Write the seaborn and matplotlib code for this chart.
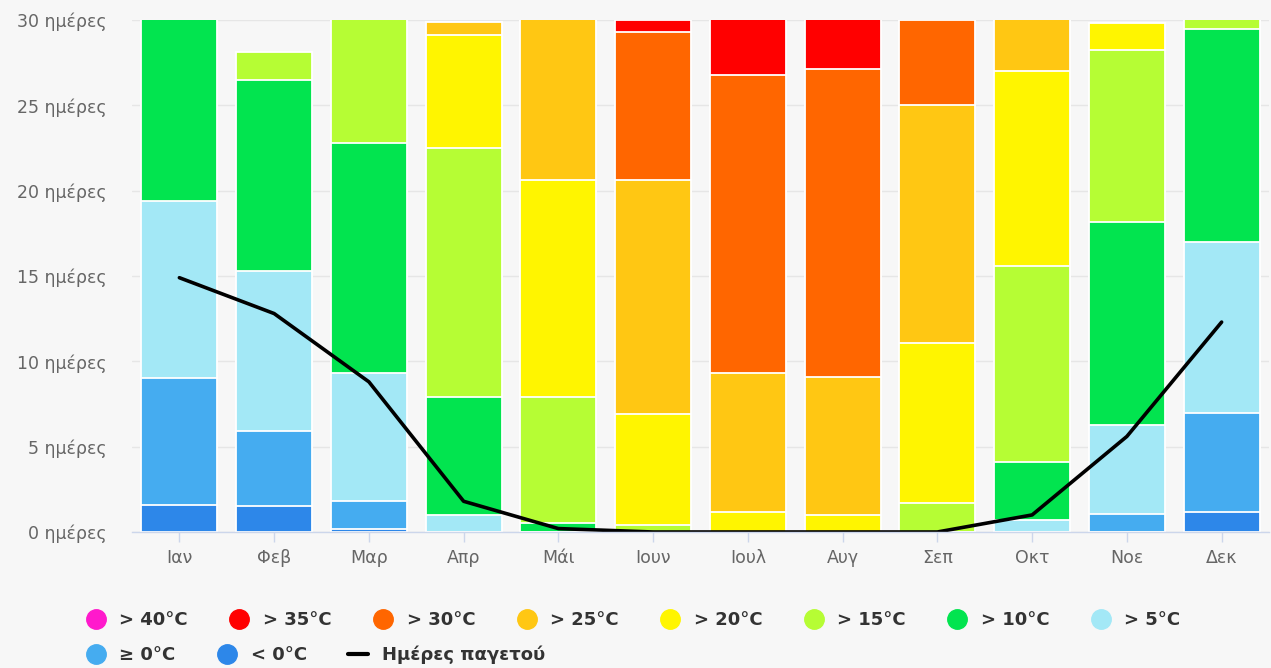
import numpy as np
import pandas as pd
import matplotlib
matplotlib.use("Agg")
import matplotlib.pyplot as plt
import seaborn as sns
from matplotlib.lines import Line2D

# ---------------- data ----------------
months = ['Ιαν', 'Φεβ', 'Μαρ', 'Απρ', 'Μάι', 'Ιουν', 'Ιουλ', 'Αυγ', 'Σεπ', 'Οκτ', 'Νοε', 'Δεκ']

# days per temperature class (bottom to top)
lt0  = [1.6, 1.5, 0.2, 0.0, 0.0, 0.0, 0.0, 0.0, 0.0, 0.0, 0.0, 1.2]
ge0  = [7.4, 4.4, 1.6, 0.0, 0.0, 0.0, 0.0, 0.0, 0.0, 0.0, 1.05, 5.8]
gt5  = [10.4, 9.4, 7.5, 1.0, 0.0, 0.0, 0.0, 0.0, 0.0, 0.7, 5.2, 10.0]
gt10 = [11.6, 11.2, 13.5, 6.9, 0.5, 0.0, 0.0, 0.0, 0.0, 3.4, 11.9, 12.5]
gt15 = [0.0, 1.6, 8.2, 14.6, 7.4, 0.4, 0.0, 0.0, 1.7, 11.5, 10.1, 1.5]
gt20 = [0.0, 0.0, 0.0, 6.6, 12.7, 6.5, 1.2, 1.0, 9.4, 11.4, 1.6, 0.0]
gt25 = [0.0, 0.0, 0.0, 0.8, 10.4, 13.7, 8.1, 8.1, 13.9, 4.0, 0.0, 0.0]
gt30 = [0.0, 0.0, 0.0, 0.0, 0.0, 8.7, 17.5, 18.0, 5.0, 0.0, 0.0, 0.0]
gt35 = [0.0, 0.0, 0.0, 0.0, 0.0, 0.7, 4.2, 3.9, 0.0, 0.0, 0.0, 0.0]
gt40 = [0.0, 0.0, 0.0, 0.0, 0.0, 0.0, 0.0, 0.0, 0.0, 0.0, 0.0, 0.0]

frost_days = [14.9, 12.8, 8.8, 1.8, 0.2, 0.0, 0.0, 0.0, 0.0, 1.0, 5.6, 12.3]

series_labels = ['< 0°C', '≥ 0°C', '> 5°C', '> 10°C', '> 15°C',
                 '> 20°C', '> 25°C', '> 30°C', '> 35°C', '> 40°C']
series_colors = ['#2d87e9', '#45acf0', '#a3e8f6', '#02e44f', '#b6fd34',
                 '#fff500', '#ffc713', '#ff6600', '#ff0000', '#ff19cc']
frost_label = 'Ημέρες παγετού'

yticks = [0, 5, 10, 15, 20, 25, 30]
ytick_labels = ['0 ημέρες', '5 ημέρες', '10 ημέρες', '15 ημέρες',
                '20 ημέρες', '25 ημέρες', '30 ημέρες']

layers = [lt0, ge0, gt5, gt10, gt15, gt20, gt25, gt30, gt35, gt40]

# ---------------- style ----------------
bg = '#f7f7f7'
sns.set_theme(style='white')
plt.rcParams['font.family'] = ['DejaVu Sans']

W, H = 1271, 668
fig = plt.figure(figsize=(W / 100, H / 100), dpi=100, facecolor=bg)
ax = fig.add_axes([132 / W, 1 - 532 / H, (1269 - 132) / W, 512 / H])
ax.set_facecolor(bg)

# stacked bars: draw cumulative totals from top layer downward
cum = np.cumsum(np.array(layers), axis=0)
for i in reversed(range(len(layers))):
    if not any(v > 0 for v in layers[i]):
        continue
    df = pd.DataFrame({'month': months, 'days': cum[i]})
    sns.barplot(data=df, x='month', y='days', order=months, color=series_colors[i],
                saturation=1, width=0.8, edgecolor='white', linewidth=1.3,
                errorbar=None, ax=ax, zorder=2)

# frost days line
sns.lineplot(x=np.arange(len(months)), y=frost_days, color='black', linewidth=2.6,
             ax=ax, zorder=5)

ax.set_xlim(-0.5, len(months) - 0.5)
ax.set_ylim(0, 30)
ax.set_xlabel('')
ax.set_ylabel('')
ax.set_xticks(np.arange(len(months)))
ax.set_xticklabels(months)
ax.set_yticks(yticks)
ax.set_yticklabels(ytick_labels)

ax.yaxis.grid(True, color='#e6e6e6', linewidth=1)
ax.set_axisbelow(True)
for s in ['top', 'right', 'left']:
    ax.spines[s].set_visible(False)
ax.spines['bottom'].set_color('#ccd6eb')
ax.spines['bottom'].set_linewidth(1)
ax.spines['bottom'].set_zorder(6)

ax.tick_params(axis='y', length=0, pad=18, labelsize=12.5, labelcolor='#666666')
ax.tick_params(axis='x', length=7, width=1, color='#ccd6eb', pad=5,
               labelsize=12.5, labelcolor='#666666', bottom=True)

# ---------------- legend ----------------
fs = 13
def circ(c):
    return Line2D([], [], marker='o', linestyle='', markersize=14,
                  markerfacecolor=c, markeredgecolor=c)

order_row1 = [9, 8, 7, 6, 5, 4, 3, 2]
h1 = [circ(series_colors[i]) for i in order_row1]
l1 = [series_labels[i] for i in order_row1]
h2 = [circ(series_colors[1]), circ(series_colors[0]),
      Line2D([], [], color='black', linewidth=3)]
l2 = [series_labels[1], series_labels[0], frost_label]

common = dict(frameon=False, loc='center left', borderpad=0, borderaxespad=0,
              handlelength=1.1, handletextpad=0.75, columnspacing=2.3,
              prop={'size': fs, 'weight': 'bold'})
leg1 = fig.legend(h1, l1, ncol=8, bbox_to_anchor=(86 / W, 1 - 620 / H), **common)
leg2 = fig.legend(h2, l2, ncol=3, bbox_to_anchor=(86 / W, 1 - 655 / H), **common)
for lg in (leg1, leg2):
    for t in lg.get_texts():
        t.set_color('#333333')

fig.savefig('out.png', dpi=100, facecolor=bg)
